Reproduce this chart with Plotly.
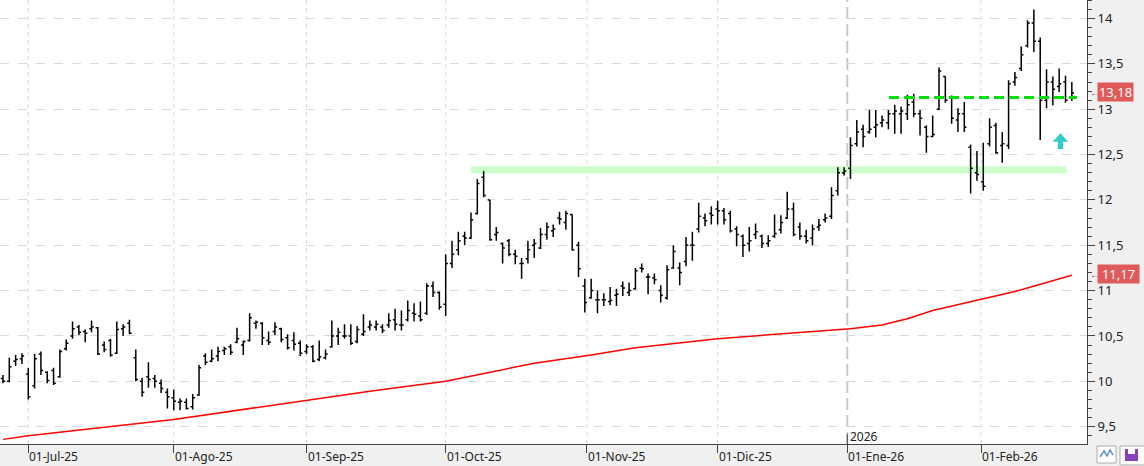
import pandas as pd
import plotly.graph_objects as go

# ---------------- data ----------------
holidays = ["2025-12-25", "2025-12-26", "2026-01-01"]
dates = [d for d in pd.bdate_range("2025-06-25", "2026-02-20")
         if d.strftime("%Y-%m-%d") not in holidays]

opens = [
    10.03, 10.00, 10.22, 10.25,
    10.08, 9.95, 10.30, 10.10, 10.12, 10.05, 10.36, 10.50, 10.60, 10.55, 10.58, 10.59, 10.40, 10.45, 10.31, 10.58, 10.64, 10.26, 10.00, 10.05, 10.03, 9.98, 9.88,
    9.82, 9.77, 9.77, 9.72, 9.85, 10.28, 10.22, 10.28, 10.34, 10.38, 10.43, 10.40, 10.45, 10.64, 10.64, 10.45, 10.55, 10.58, 10.48, 10.45, 10.42,
    10.33, 10.38, 10.24, 10.26, 10.38, 10.50, 10.50, 10.50, 10.44, 10.52, 10.60, 10.60, 10.60, 10.62, 10.68, 10.62, 10.68, 10.75, 10.72, 10.75, 11.05, 10.98,
    10.85, 11.30, 11.45, 11.60, 11.58, 11.85, 12.25, 12.00, 11.62, 11.52, 11.55, 11.40, 11.30, 11.35, 11.50, 11.47, 11.62, 11.66, 11.80, 11.75, 11.84, 11.50, 11.05,
    10.92, 10.90, 10.90, 10.88, 10.95, 11.05, 10.98, 11.02, 11.25, 11.15, 11.14, 11.00, 10.92, 11.25, 11.25, 11.32, 11.50, 11.68, 11.80, 11.85,
    11.90, 11.88, 11.85, 11.68, 11.60, 11.52, 11.62, 11.60, 11.52, 11.60, 11.67, 11.80, 11.90, 11.70, 11.60, 11.58, 11.70, 11.78, 11.82, 12.10, 12.30,
    12.35, 12.62, 12.78, 12.75, 12.80, 12.85, 12.85, 12.95, 12.95, 12.95, 13.08, 12.95, 12.80, 12.70, 13.00, 13.36, 13.12, 12.88, 12.95, 12.58, 12.30,
    12.20, 12.62, 12.82, 12.60, 12.60, 13.30, 13.45, 13.70, 13.95, 13.75, 13.10, 13.30, 13.25, 13.30, 13.12,
]
highs = [
    10.07, 10.26, 10.29, 10.31,
    10.15, 10.30, 10.33, 10.11, 10.15, 10.35, 10.46, 10.66, 10.62, 10.57, 10.67, 10.60, 10.44, 10.47, 10.66, 10.63, 10.68, 10.35, 10.04, 10.21, 10.07, 10.02, 9.92,
    9.91, 9.81, 9.81, 9.86, 10.18, 10.31, 10.35, 10.38, 10.38, 10.41, 10.59, 10.45, 10.75, 10.67, 10.65, 10.55, 10.65, 10.59, 10.52, 10.54, 10.45,
    10.41, 10.40, 10.45, 10.35, 10.67, 10.59, 10.63, 10.63, 10.61, 10.74, 10.67, 10.67, 10.63, 10.75, 10.80, 10.78, 10.89, 10.86, 10.88, 11.08, 11.10, 10.99,
    11.40, 11.55, 11.65, 11.65, 11.86, 12.23, 12.32, 12.00, 11.70, 11.53, 11.57, 11.45, 11.36, 11.55, 11.57, 11.69, 11.75, 11.73, 11.87, 11.88, 11.84, 11.54, 11.13,
    11.13, 11.00, 10.97, 11.04, 11.02, 11.10, 11.09, 11.25, 11.30, 11.19, 11.19, 11.06, 11.28, 11.50, 11.31, 11.59, 11.65, 11.97, 11.85, 11.93,
    11.99, 11.91, 11.88, 11.71, 11.62, 11.70, 11.74, 11.62, 11.61, 11.84, 11.83, 12.09, 11.97, 11.75, 11.67, 11.73, 11.79, 11.85, 12.14, 12.36, 12.36,
    12.69, 12.88, 12.83, 12.99, 12.99, 12.93, 12.99, 13.05, 13.03, 13.16, 13.17, 12.99, 12.82, 12.93, 13.46, 13.36, 13.15, 13.01, 13.08, 12.61, 12.54,
    12.63, 12.90, 12.85, 12.75, 13.32, 13.41, 13.69, 13.98, 14.10, 13.79, 13.44, 13.36, 13.45, 13.37, 13.30,
]
lows = [
    9.98, 9.99, 10.17, 10.19,
    9.80, 9.92, 10.07, 9.98, 9.96, 10.04, 10.34, 10.47, 10.51, 10.43, 10.54, 10.29, 10.32, 10.27, 10.30, 10.50, 10.52, 10.00, 9.83, 9.93, 9.93, 9.87, 9.70,
    9.68, 9.68, 9.69, 9.69, 9.84, 10.18, 10.21, 10.22, 10.29, 10.29, 10.42, 10.29, 10.44, 10.58, 10.40, 10.40, 10.51, 10.43, 10.35, 10.34, 10.28,
    10.30, 10.21, 10.22, 10.24, 10.37, 10.40, 10.47, 10.40, 10.42, 10.50, 10.56, 10.56, 10.53, 10.59, 10.56, 10.56, 10.66, 10.66, 10.66, 10.73, 10.93, 10.79,
    10.72, 11.25, 11.39, 11.50, 11.57, 11.84, 12.03, 11.55, 11.55, 11.30, 11.38, 11.29, 11.13, 11.30, 11.36, 11.46, 11.56, 11.59, 11.73, 11.67, 11.44, 11.15, 10.76,
    10.91, 10.75, 10.83, 10.84, 10.83, 10.94, 10.94, 11.01, 11.20, 10.96, 11.07, 10.87, 10.90, 11.24, 11.06, 11.27, 11.33, 11.64, 11.71, 11.73,
    11.73, 11.73, 11.64, 11.49, 11.37, 11.43, 11.57, 11.47, 11.48, 11.58, 11.63, 11.79, 11.60, 11.56, 11.52, 11.50, 11.66, 11.75, 11.79, 12.05, 12.27,
    12.23, 12.59, 12.58, 12.73, 12.69, 12.80, 12.78, 12.73, 12.73, 12.88, 12.91, 12.71, 12.52, 12.69, 12.99, 13.07, 12.84, 12.75, 12.75, 12.07, 12.21,
    12.10, 12.59, 12.51, 12.41, 12.56, 13.26, 13.42, 13.68, 13.63, 12.66, 13.01, 13.04, 13.19, 13.07, 13.09,
]
closes = [
    10.00, 10.16, 10.24, 10.28,
    9.83, 10.25, 10.12, 10.01, 9.98, 10.33, 10.42, 10.58, 10.54, 10.53, 10.60, 10.30, 10.35, 10.29, 10.57, 10.60, 10.53, 10.02, 9.88, 10.02, 10.00, 9.92, 9.83,
    9.78, 9.78, 9.70, 9.82, 10.15, 10.21, 10.25, 10.33, 10.36, 10.32, 10.47, 10.44, 10.70, 10.65, 10.48, 10.43, 10.60, 10.46, 10.37, 10.41, 10.31,
    10.38, 10.22, 10.27, 10.30, 10.50, 10.54, 10.50, 10.42, 10.57, 10.55, 10.62, 10.63, 10.56, 10.67, 10.63, 10.62, 10.78, 10.74, 10.68, 11.05, 10.98, 10.82,
    11.30, 11.40, 11.55, 11.58, 11.78, 12.18, 12.05, 11.56, 11.64, 11.47, 11.40, 11.38, 11.30, 11.45, 11.52, 11.62, 11.70, 11.68, 11.79, 11.85, 11.45, 11.24, 10.87,
    11.00, 10.90, 10.90, 10.89, 10.96, 11.03, 11.00, 11.22, 11.24, 11.15, 11.12, 10.95, 11.23, 11.43, 11.20, 11.50, 11.50, 11.82, 11.77, 11.83,
    11.88, 11.78, 11.66, 11.62, 11.50, 11.55, 11.65, 11.52, 11.55, 11.63, 11.75, 11.90, 11.62, 11.60, 11.55, 11.68, 11.72, 11.80, 12.05, 12.30, 12.32,
    12.60, 12.75, 12.70, 12.78, 12.83, 12.88, 12.95, 12.98, 12.98, 13.05, 12.95, 12.90, 12.70, 12.72, 13.42, 13.10, 12.90, 12.95, 12.80, 12.35, 12.28,
    12.15, 12.80, 12.52, 12.62, 13.28, 13.35, 13.60, 13.95, 13.75, 13.10, 13.30, 13.22, 13.28, 13.10, 13.18,
]

ma_dates = ["2025-06-25", "2025-07-01", "2025-08-01", "2025-08-29", "2025-09-15", "2025-10-01",
            "2025-10-10", "2025-10-21", "2025-11-03", "2025-11-12", "2025-12-01", "2025-12-23",
            "2026-01-02", "2026-01-09", "2026-01-15", "2026-01-21", "2026-01-28", "2026-02-02",
            "2026-02-09", "2026-02-16", "2026-02-20"]
ma_values = [9.36, 9.40, 9.58, 9.78, 9.89, 10.00, 10.10, 10.20, 10.29, 10.37, 10.47, 10.55,
             10.58, 10.62, 10.69, 10.78, 10.86, 10.91, 10.99, 11.09, 11.17]

month_starts = ["2025-07-01", "2025-08-01", "2025-09-01", "2025-10-01",
                "2025-11-01", "2025-12-01", "2026-01-01", "2026-02-01"]
month_labels = ["01-Jul-25", "01-Ago-25", "01-Sep-25", "01-Oct-25",
                "01-Nov-25", "01-Dic-25", "01-Ene-26", "01-Feb-26"]

y_ticks = [9.5, 10, 10.5, 11, 11.5, 12, 12.5, 13, 13.5, 14]
y_ticktext = ["9,5", "10", "10,5", "11", "11,5", "12", "12,5", "13", "13,5", "14"]

last_price = 13.18
ma_last = 11.17

# drawn annotations (support zone, resistance line, arrow)
band_x = (74.0, 168.2)
band_y = (12.29, 12.37)
res_x = (140.1, 169.8)
res_y = 13.13
arrow_x = 167.2
arrow_y = (12.56, 12.642, 12.734)


def pos(day):
    d = pd.Timestamp(day)
    for i, t in enumerate(dates):
        if t >= d:
            if t == d or i == 0:
                return float(i)
            prev = dates[i - 1]
            return i - 1 + (d - prev).days / (t - prev).days
    return float(len(dates) - 1)


idx = list(range(len(dates)))
ma_x = [pos(d) for d in ma_dates]
tick_pos = [pos(d) for d in month_starts]
jan_pos = tick_pos[6]

FONT = "Noto Sans"
AX = "#444444"

fig = go.Figure()
fig.add_trace(go.Ohlc(
    x=idx, open=opens, high=highs, low=lows, close=closes,
    increasing=dict(line=dict(color="black", width=1.5)),
    decreasing=dict(line=dict(color="black", width=1.5)),
    tickwidth=0.35, hoverinfo="skip"))
fig.add_trace(go.Scatter(x=ma_x, y=ma_values, mode="lines",
                         line=dict(color="#ff0000", width=1.5), hoverinfo="skip"))

shapes = []
for k, p in enumerate(tick_pos):
    if k == 6:
        continue
    shapes.append(dict(type="line", xref="x", yref="paper", x0=p, x1=p, y0=0, y1=1,
                       line=dict(color="#d8d8d8", width=1, dash="4px,4px"), layer="below"))
shapes.append(dict(type="line", xref="x", yref="paper", x0=jan_pos, x1=jan_pos, y0=0, y1=1,
                   line=dict(color="#c8c8c8", width=2, dash="12px,5px"), layer="below"))
shapes.append(dict(type="line", xref="x", yref="paper", x0=jan_pos, x1=jan_pos, y0=0, y1=0.022,
                   line=dict(color=AX, width=1)))
# support band
shapes.append(dict(type="rect", xref="x", yref="y", x0=band_x[0], x1=band_x[1],
                   y0=band_y[0], y1=band_y[1], fillcolor="#ccffcc", line=dict(width=0),
                   layer="below"))
# resistance dashed line
shapes.append(dict(type="line", xref="x", yref="y", x0=res_x[0], x1=res_x[1],
                   y0=res_y, y1=res_y, line=dict(color="#00e000", width=3, dash="10px,5px")))
# cyan up arrow
hw, sw = 1.23, 0.42
path = (f"M {arrow_x-hw},{arrow_y[1]} L {arrow_x},{arrow_y[2]} L {arrow_x+hw},{arrow_y[1]} "
        f"L {arrow_x+sw},{arrow_y[1]} L {arrow_x+sw},{arrow_y[0]} L {arrow_x-sw},{arrow_y[0]} "
        f"L {arrow_x-sw},{arrow_y[1]} Z")
shapes.append(dict(type="path", xref="x", yref="y", path=path, fillcolor="#33cccc",
                   line=dict(width=0)))
# bottom-right toolbar icons
PW, PH = 1087.0, 444.0
def px(xp): return xp / PW
def py(yp): return (PH - yp) / PH
shapes.append(dict(type="rect", xref="paper", yref="paper", x0=px(1097), x1=px(1116),
                   y0=py(463), y1=py(446), fillcolor="white", line=dict(color="#aaaaaa", width=1)))
shapes.append(dict(type="path", xref="paper", yref="paper",
                   path=f"M {px(1100)},{py(457)} L {px(1104)},{py(451)} L {px(1107)},{py(456)} L {px(1110)},{py(450)} L {px(1113)},{py(455)}",
                   line=dict(color="#5a8fd8", width=1.5)))
shapes.append(dict(type="rect", xref="paper", yref="paper", x0=px(1120), x1=px(1146),
                   y0=py(465), y1=py(446), fillcolor="white", line=dict(color="#aaaaaa", width=1)))
shapes.append(dict(type="rect", xref="paper", yref="paper", x0=px(1125), x1=px(1138),
                   y0=py(461), y1=py(449), fillcolor="#8a3fbf", line=dict(width=0)))
shapes.append(dict(type="rect", xref="paper", yref="paper", x0=px(1128), x1=px(1135),
                   y0=py(454), y1=py(449), fillcolor="white", line=dict(width=0)))

annotations = []
for p, lab in zip(tick_pos, month_labels):
    annotations.append(dict(x=p, xref="x", y=0, yref="paper", text=lab, showarrow=False,
                            xanchor="left", yanchor="middle", xshift=0, yshift=-12,
                            borderpad=0,
                            font=dict(family=FONT, size=12, color="#222222")))
annotations.append(dict(x=jan_pos, xref="x", y=0, yref="paper", text="2026", showarrow=False,
                        xanchor="left", yanchor="bottom", xshift=1, yshift=-3,
                        font=dict(family=FONT, size=12, color="#222222")))
for val, w in ((last_price, 33), (ma_last, 39)):
    annotations.append(dict(x=px(1097), xref="paper", y=val, yref="y",
                            text=f"{val:.2f}".replace(".", ","), showarrow=False,
                            xanchor="left", yanchor="middle", width=w, height=16,
                            borderpad=1, yshift=1,
                            bgcolor="#e05a5a", align="center",
                            font=dict(family=FONT, size=13, color="white")))
    annotations.append(dict(x=px(1088), xref="paper", y=val, yref="y", text="←",
                            showarrow=False, xanchor="left", yanchor="middle", yshift=1,
                            font=dict(family=FONT, size=10, color="#555555")))

fig.update_layout(
    width=1144, height=466,
    margin=dict(l=0, r=57, t=0, b=22),
    paper_bgcolor="#f0f0f0", plot_bgcolor="white",
    showlegend=False, separators=",.",
    shapes=shapes, annotations=annotations,
    xaxis=dict(range=[-0.47, 171.4], showgrid=False, zeroline=False,
               showline=True, linecolor=AX, linewidth=1,
               ticks="outside", tickvals=tick_pos, ticklen=8, tickcolor=AX,
               showticklabels=False, rangeslider=dict(visible=False), fixedrange=True),
    yaxis=dict(side="right", range=[9.309, 14.204], tickvals=y_ticks, ticktext=y_ticktext,
               ticks="outside", ticklen=7, tickcolor=AX, showline=True, linecolor=AX,
               linewidth=1, zeroline=False, showgrid=True, gridcolor="#dadada",
               griddash="dash", tickfont=dict(family=FONT, size=13, color="#222222"),
               minor=dict(dtick=0.1, ticks="outside", ticklen=4, tickcolor=AX, showgrid=False),
               fixedrange=True),
    font=dict(family=FONT),
)

fig.write_html("out.html")
